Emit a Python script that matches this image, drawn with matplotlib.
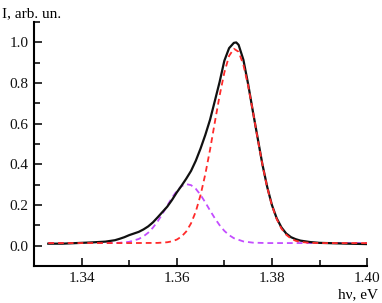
import matplotlib
matplotlib.use("Agg")
import matplotlib.pyplot as plt
from matplotlib.ticker import MultipleLocator

# Measured spectrum (black)
x_meas = [1.333, 1.336, 1.339, 1.342, 1.345, 1.347, 1.348, 1.349, 1.350, 1.351,
          1.352, 1.353, 1.354, 1.355, 1.356, 1.357, 1.358, 1.359, 1.360, 1.361,
          1.362, 1.363, 1.364, 1.365, 1.366, 1.367, 1.368, 1.369, 1.370, 1.371,
          1.372, 1.3725, 1.373, 1.374, 1.375, 1.376, 1.377, 1.378, 1.379, 1.380,
          1.381, 1.382, 1.383, 1.384, 1.385, 1.386, 1.388, 1.390, 1.393, 1.396,
          1.400]
y_meas = [0.010, 0.010, 0.013, 0.016, 0.020, 0.027, 0.034, 0.042, 0.052, 0.060,
          0.068, 0.080, 0.095, 0.115, 0.140, 0.166, 0.192, 0.225, 0.262, 0.295,
          0.330, 0.368, 0.418, 0.478, 0.545, 0.620, 0.712, 0.805, 0.910, 0.972,
          0.998, 1.000, 0.988, 0.915, 0.795, 0.660, 0.530, 0.400, 0.290, 0.200,
          0.135, 0.090, 0.060, 0.042, 0.032, 0.025, 0.018, 0.014, 0.012, 0.010,
          0.008]

# Main fitted peak (red dashed)
x_fit1 = [1.333, 1.350, 1.356, 1.358, 1.359, 1.360, 1.361, 1.362, 1.363, 1.364,
          1.365, 1.366, 1.367, 1.368, 1.369, 1.370, 1.371, 1.372, 1.373, 1.374,
          1.375, 1.376, 1.377, 1.378, 1.379, 1.380, 1.381, 1.382, 1.383, 1.384,
          1.385, 1.386, 1.388, 1.390, 1.400]
y_fit1 = [0.013, 0.013, 0.0138, 0.017, 0.0216, 0.030, 0.045, 0.070, 0.110, 0.168,
          0.249, 0.352, 0.473, 0.607, 0.738, 0.852, 0.934, 0.969, 0.954, 0.890,
          0.787, 0.661, 0.526, 0.399, 0.287, 0.198, 0.131, 0.084, 0.054, 0.035,
          0.024, 0.0185, 0.014, 0.013, 0.013]

# Shoulder fitted peak (purple dashed)
x_fit2 = [1.333, 1.340, 1.345, 1.348, 1.350, 1.352, 1.353, 1.354, 1.355, 1.356,
          1.357, 1.358, 1.359, 1.360, 1.361, 1.362, 1.363, 1.364, 1.365, 1.366,
          1.367, 1.368, 1.369, 1.370, 1.371, 1.372, 1.374, 1.376, 1.379, 1.400]
y_fit2 = [0.013, 0.013, 0.013, 0.0146, 0.019, 0.033, 0.046, 0.064, 0.089, 0.120,
          0.157, 0.197, 0.236, 0.269, 0.293, 0.303, 0.298, 0.280, 0.250, 0.213,
          0.173, 0.135, 0.101, 0.073, 0.052, 0.037, 0.021, 0.015, 0.013, 0.013]

plt.rcParams['font.family'] = ['Liberation Serif', 'DejaVu Serif']

fig = plt.figure(figsize=(3.82, 3.03), dpi=100)
ax = fig.add_axes([0.089, 0.122, 0.872, 0.805])

ax.plot(x_fit2, y_fit2, color='#c44dff', lw=1.3, dashes=(3.2, 2.2))
ax.plot(x_meas, y_meas, color='#111111', lw=1.6, solid_joinstyle='round')
ax.plot(x_fit1, y_fit1, color='#ff2a2a', lw=1.3, dashes=(3.2, 2.2))

ax.set_xlim(1.33, 1.40)
ax.set_ylim(-0.1, 1.1)
ax.xaxis.set_major_locator(MultipleLocator(0.02))
ax.xaxis.set_minor_locator(MultipleLocator(0.01))
ax.yaxis.set_major_locator(MultipleLocator(0.2))
ax.yaxis.set_minor_locator(MultipleLocator(0.1))
ax.xaxis.set_major_formatter(plt.FuncFormatter(lambda v, p: f"{v:.2f}"))
ax.yaxis.set_major_formatter(plt.FuncFormatter(lambda v, p: f"{v:.1f}"))

for s in ['top', 'right']:
    ax.spines[s].set_visible(False)
for s in ['left', 'bottom']:
    ax.spines[s].set_linewidth(1.5)

ax.tick_params(which='both', direction='in', width=1.2, labelsize=11, pad=4,
               colors='#111111')
ax.tick_params(which='major', length=6)
ax.tick_params(which='minor', length=4)

fig.text(0.005, 0.975, 'I, arb. un.', ha='left', va='top', fontsize=11)
fig.text(0.99, 0.005, 'hν, eV', ha='right', va='bottom', fontsize=11)

fig.savefig('out.png', dpi=100)
